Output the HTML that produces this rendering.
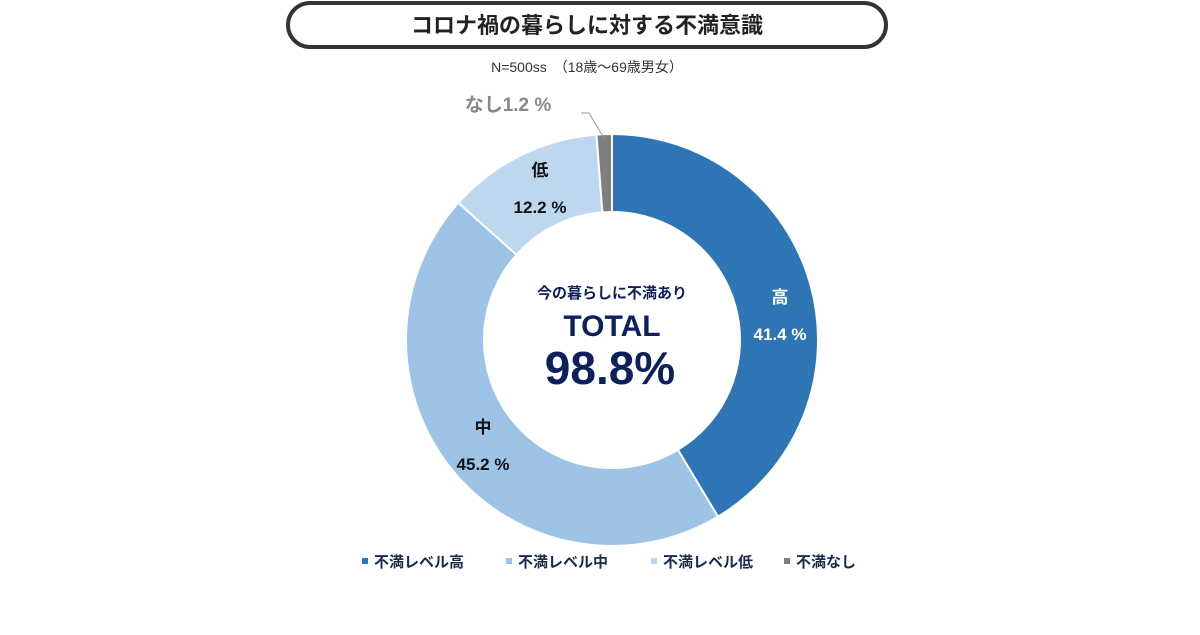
<!DOCTYPE html>
<html><head><meta charset="utf-8"><style>
body{margin:0;width:1200px;height:630px;background:#fff;overflow:hidden;font-family:"Liberation Sans","Noto Sans CJK JP",sans-serif}
</style></head><body>
<svg width="1200" height="630" font-family="'Liberation Sans','Noto Sans CJK JP',sans-serif">
<rect x="288" y="3" width="598" height="44" rx="22" fill="#fff" stroke="#333" stroke-width="4"/>
<text x="587" y="33" text-anchor="middle" font-size="22" font-weight="bold" fill="#222">コロナ禍の暮らしに対する不満意識</text>
<text x="587" y="72" text-anchor="middle" font-size="14" fill="#333">N=500ss　（18歳～69歳男女）</text>
<g id="slices"></g>
<polyline points="604,138 589,113 581,113" fill="none" stroke="#999" stroke-width="1"/>
<text x="612" y="298" text-anchor="middle" font-size="15" font-weight="bold" fill="#0d1f5c">今の暮らしに不満あり</text>
<text x="612" y="336" text-anchor="middle" font-size="30" font-weight="bold" fill="#0d1f5c">TOTAL</text>
<text x="610" y="384" text-anchor="middle" font-size="46" font-weight="bold" fill="#0d1f5c">98.8%</text>
<g id="labels" font-weight="bold" font-size="17"></g>
<g id="legend" font-size="15" font-weight="bold" fill="#1a2a4f"></g>
</svg>
<script>
const categories=["高","中","低","なし"];
const values=[41.4,45.2,12.2,1.2];
const legendNames=["不満レベル高","不満レベル中","不満レベル低","不満なし"];
const colors=["#2e75b6","#9dc3e6","#bdd7ee","#7f7f7f"];
const NS="http://www.w3.org/2000/svg";
const cx=612,cy=340,R=206,r=128;
const total=values.reduce((a,b)=>a+b,0);
function pt(rad,a){return [cx+rad*Math.sin(a),cy-rad*Math.cos(a)];}
let acc=0;
const sg=document.getElementById('slices');
const lg=document.getElementById('labels');
const labelPos=[[780,303,"#fff"],[483,433,"#111"],[540,176,"#111"],[508,111,"#888"]];
values.forEach((v,i)=>{
 const a0=acc/total*2*Math.PI; acc+=v; const a1=acc/total*2*Math.PI;
 const large=(a1-a0)>Math.PI?1:0;
 const [x0,y0]=pt(R,a0),[x1,y1]=pt(R,a1),[x2,y2]=pt(r,a1),[x3,y3]=pt(r,a0);
 const p=document.createElementNS(NS,'path');
 p.setAttribute('d',`M${x0},${y0}A${R},${R} 0 ${large} 1 ${x1},${y1}L${x2},${y2}A${r},${r} 0 ${large} 0 ${x3},${y3}Z`);
 p.setAttribute('fill',colors[i]);p.setAttribute('stroke','#fff');p.setAttribute('stroke-width','2');
 
 
 sg.appendChild(p);
 const [lx,ly,c]=labelPos[i];
 if(i<3){
  const t=document.createElementNS(NS,'text');
  t.setAttribute('x',lx);t.setAttribute('y',ly);t.setAttribute('text-anchor','middle');t.setAttribute('fill',c);
  t.textContent=categories[i];
  
  
  lg.appendChild(t);
  const t2=document.createElementNS(NS,'text');
  t2.setAttribute('x',lx);t2.setAttribute('y',ly+37);t2.setAttribute('text-anchor','middle');t2.setAttribute('fill',c);
  t2.textContent=v.toFixed(1)+' %';
  
  
  lg.appendChild(t2);
 } else {
  const t=document.createElementNS(NS,'text');
  t.setAttribute('x',lx);t.setAttribute('y',ly);t.setAttribute('text-anchor','middle');t.setAttribute('fill',c);t.setAttribute('font-size','19');
  t.textContent=categories[i]+v.toFixed(1)+' %';
  
  
  lg.appendChild(t);
 }
});
const leg=document.getElementById('legend');
const legX=[362,506,651,784];
legendNames.forEach((n,i)=>{
 const s=document.createElementNS(NS,'rect');
 s.setAttribute('x',legX[i]);s.setAttribute('y',558);s.setAttribute('width',6);s.setAttribute('height',6);s.setAttribute('fill',colors[i]);
 
 
 leg.appendChild(s);
 const t=document.createElementNS(NS,'text');
 t.setAttribute('x',legX[i]+12);t.setAttribute('y',567);t.textContent=n;
 
 
 leg.appendChild(t);
});
</script>
</body></html>
